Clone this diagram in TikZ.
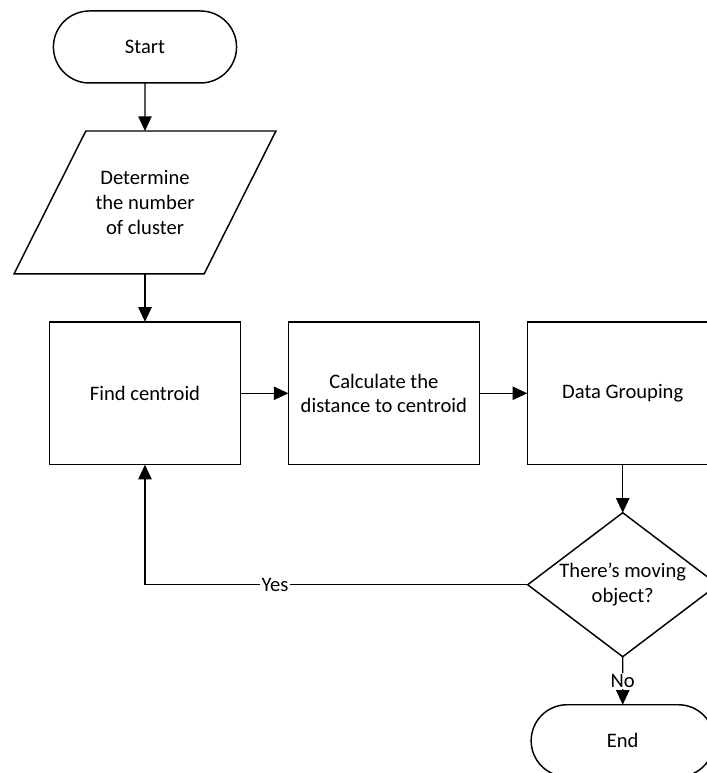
\documentclass[tikz,border=0pt]{standalone}
\usepackage{fontspec}
\setmainfont{Carlito}
\usetikzlibrary{shapes.geometric,shapes.misc,arrows.meta}
\usetikzlibrary{positioning}
\tikzstyle{terminal}=[draw,rounded rectangle,minimum width=5.08cm,minimum height=1.905cm]
\tikzstyle{io}=[rectangle,minimum width=5.03cm,minimum height=3.78cm,align=center]
\tikzstyle{process}=[draw,rectangle,minimum width=5.05cm,minimum height=3.78cm,align=center]
\tikzstyle{decision}=[draw,diamond,minimum width=5.03cm,minimum height=3.81cm,inner sep=0pt]
\tikzstyle{flow}=[line width=1.1pt,-{Triangle[length=11pt,width=10pt]}]
\tikzstyle{answer}=[fill=white,inner sep=1pt]

\begin{document}
\begin{tikzpicture}[node distance=1.27cm,every node/.style={outer sep=0pt,line width=1.1pt,font=\fontsize{15.5}{18.6}\selectfont}]
\clip (-3.836,1.243) rectangle (14.869,-19.209);
% left column
\node[terminal] at (0,0) (start) {Start};
\node[io,below=of start] (det) {Determine\\the number\\of cluster};
\draw[line width=1.1pt] ([xshift=.95cm]det.north west) -- ([xshift=.95cm]det.north east)
  -- ([xshift=-.95cm]det.south east) -- ([xshift=-.95cm]det.south west) -- cycle; %% slanted input box
\node[process,below=of det] (find) {Find centroid};
% row of steps
\node[process,right=of find] (calc) {Calculate the\\distance to centroid};
\node[process,right=of calc] (group) {Data Grouping};
\node[decision,below=of group] (decide) {};
\node[align=center] at (decide) (decidetext) {There’s moving\\object?};
\node[terminal,below=of decide] (stop) {End};
%
\draw[flow] (start) -- (det);
\draw[flow] (det) -- (find);
\draw[flow] (find) -- (calc);
\draw[flow] (calc) -- (group);
\draw[flow] (group) -- (decide);
\draw[flow] (decide.west) -| (find.south) node[answer,pos=.33]{Yes};
\draw[flow] (decide) -- (stop) node[answer,pos=.5]{No};
\end{tikzpicture}
\end{document}
